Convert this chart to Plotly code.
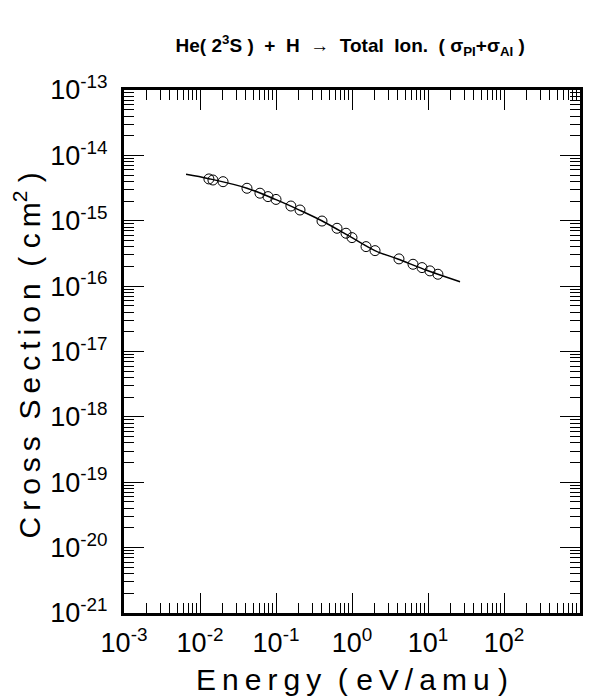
import plotly.graph_objects as go

# Data points (energy eV/amu, cross section cm^2)
energy = [0.0131, 0.0148, 0.0201, 0.0415, 0.0615, 0.0785, 0.100, 0.157, 0.207,
          0.403, 0.635, 0.834, 1.00, 1.53, 2.01, 4.15, 6.35, 8.34, 10.6, 13.5]
sigma = [4.36e-15, 4.20e-15, 3.96e-15, 3.14e-15, 2.64e-15, 2.34e-15, 2.12e-15,
         1.68e-15, 1.46e-15, 9.9e-16, 7.67e-16, 6.44e-16, 5.52e-16, 4.02e-16,
         3.49e-16, 2.61e-16, 2.16e-16, 1.92e-16, 1.71e-16, 1.52e-16]

# Fit curve
fit_energy = [0.00655, 0.0131, 0.0415, 0.1, 0.2, 0.4, 1.0, 2.0, 4.0, 10.0, 26.4]
fit_sigma = [5.14e-15, 4.40e-15, 3.15e-15, 2.10e-15, 1.47e-15, 1.0e-15,
             5.5e-16, 3.5e-16, 2.6e-16, 1.72e-16, 1.17e-16]

x_exps = [-3, -2, -1, 0, 1, 2, 3]
y_exps = [-21, -20, -19, -18, -17, -16, -15, -14, -13]

font_main = "Liberation Sans, Arial, sans-serif"
T = "\u2009"

fig = go.Figure()
fig.add_trace(go.Scatter(x=fit_energy, y=fit_sigma, mode="lines",
                         line=dict(color="black", width=1.5, shape="spline"),
                         showlegend=False, hoverinfo="skip"))
fig.add_trace(go.Scatter(x=energy, y=sigma, mode="markers",
                         marker=dict(symbol="circle-open", size=10,
                                     color="black", line=dict(width=1)),
                         showlegend=False))


def minor_vals(exps):
    vals = []
    for e in exps[:-1]:
        for k in range(2, 10):
            vals.append(k * 10.0 ** e)
    return vals


def spaced(s):
    return T.join(s)


x_title = spaced("Energy") + "  ( " + spaced("eV/amu") + " )"
y_title = (spaced("Cross") + "  " + spaced("Section") + "  ( " + spaced("cm")
           + "<sup>2</sup> )")

fig.update_xaxes(
    type="log", range=[-3, 3], automargin=False,
    tickmode="array", tickvals=[10.0 ** e for e in x_exps],
    ticktext=["10<sup>%d</sup>" % e for e in x_exps],
    ticks="inside", ticklen=20, tickwidth=1.2, tickcolor="black",
    minor=dict(tickmode="array", tickvals=minor_vals(x_exps), ticks="inside",
               ticklen=10, tickwidth=1.2, tickcolor="black", showgrid=False),
    showline=True, linewidth=3, linecolor="black", mirror="allticks",
    showgrid=False, zeroline=False, ticklabelstandoff=4,
    tickfont=dict(family=font_main, size=27, color="black"),
    title=dict(text=x_title, standoff=22,
               font=dict(family=font_main, size=30, color="black")),
)
fig.update_yaxes(
    type="log", range=[-21, -13], automargin=False,
    tickmode="array", tickvals=[10.0 ** e for e in y_exps],
    ticktext=["10<sup>%d</sup>" % e for e in y_exps],
    ticks="inside", ticklen=20, tickwidth=1.2, tickcolor="black",
    minor=dict(tickmode="array", tickvals=minor_vals(y_exps), ticks="inside",
               ticklen=10, tickwidth=1.2, tickcolor="black", showgrid=False),
    showline=True, linewidth=3, linecolor="black", mirror="allticks",
    showgrid=False, zeroline=False, ticklabelstandoff=8,
    tickfont=dict(family=font_main, size=27, color="black"),
)

fig.add_annotation(text=y_title, xref="paper", yref="paper",
                   x=-0.212, y=0.493, xanchor="center", yanchor="middle",
                   textangle=-90, showarrow=False,
                   font=dict(family=font_main, size=30, color="black"))

fig.update_layout(
    width=590, height=688,
    margin=dict(l=116, r=18, t=82, b=83),
    paper_bgcolor="white", plot_bgcolor="white",
    title=dict(text="<b>He( 2<sup>3</sup>S )  +  H  →  Total  Ion.  ( σ<sub>PI</sub>+σ<sub>AI</sub> )</b>",
               x=0.58, xanchor="center", y=0.946, yanchor="middle",
               font=dict(family=font_main, size=19, color="black")),
)

fig.write_html("out.html")
